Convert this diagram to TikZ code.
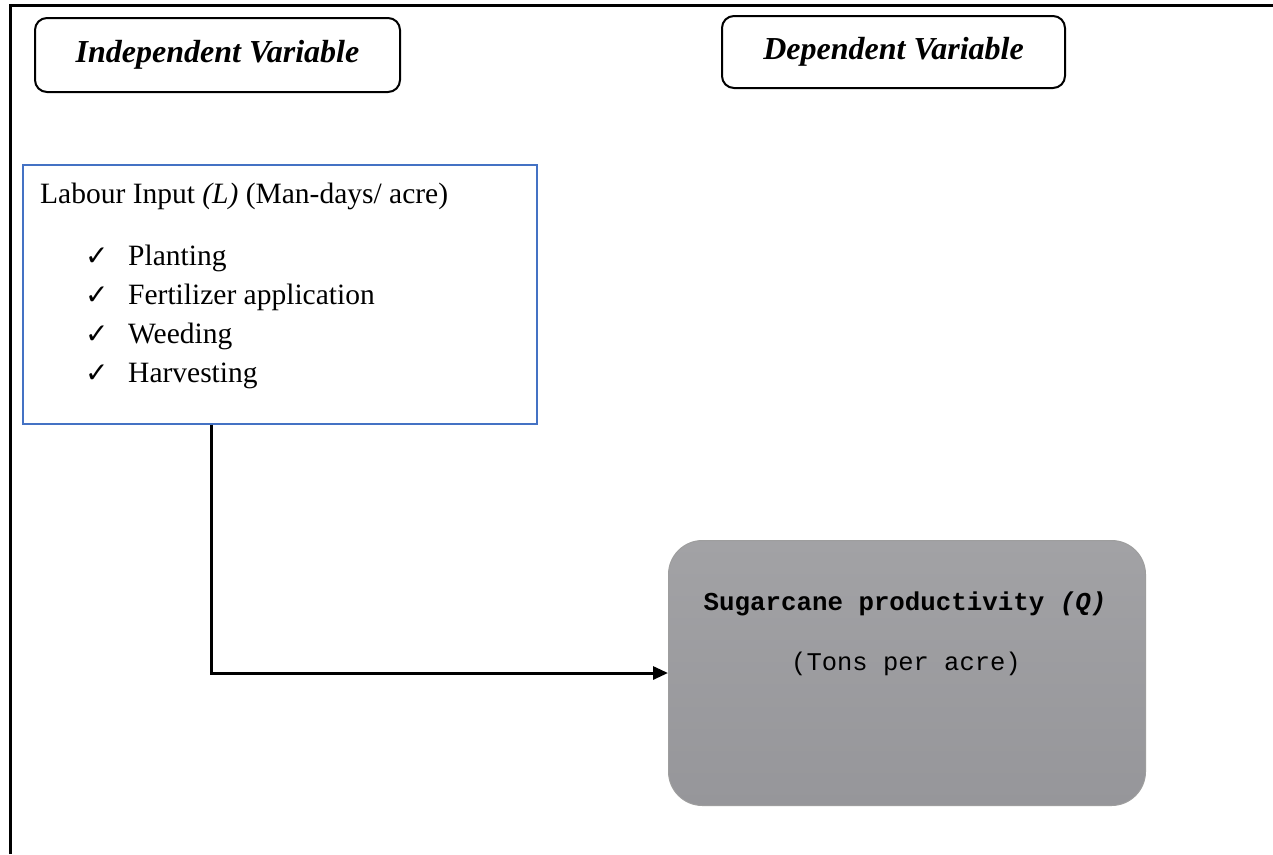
\documentclass[tikz,border=0pt]{standalone}
\usepackage{fontspec}
\setmainfont{Liberation Serif}
\setmonofont{Liberation Mono}
\newfontfamily\symfont{DejaVu Sans}
\usetikzlibrary{arrows.meta,backgrounds}

\definecolor{boxblue}{HTML}{4472C4}
\definecolor{greytop}{HTML}{A2A2A5}
\definecolor{greybot}{HTML}{96969A}

\tikzset{
  headbox/.style={draw=black, line width=2pt, rounded corners=12pt,
    inner sep=0pt, font=\fontsize{32}{38}\selectfont\bfseries\itshape},
  labbox/.style={draw=boxblue, line width=1.6pt, inner sep=0pt, fill=white},
  bodytxt/.style={inner sep=0pt, font=\fontsize{29.5}{35}\selectfont},
  tick/.style={inner sep=0pt, font=\symfont\fontsize{28}{30}\selectfont},
  resultbox/.style={rounded corners=34pt, inner sep=0pt, draw=black!38,
    line width=1pt, top color=greytop, bottom color=greybot},
  monotxt/.style={inner sep=0pt, font=\ttfamily\fontsize{25.5}{30}\selectfont},
  conn/.style={line width=3pt, -{Triangle[length=15pt,width=13pt]}},
}

\begin{document}
\begin{tikzpicture}[x=1pt,y=-1pt]
\useasboundingbox (0,0) rectangle (1273,854);
\fill[white] (0,0) rectangle (1273,854);

% page frame (left and top rules)
\draw[line width=3pt] (10,854) -- (10,5) -- (1273,5);

% headings
\node[headbox, minimum width=365pt, minimum height=74pt] (indep) at (217.5,55) {Independent Variable};
\node[headbox, minimum width=343pt, minimum height=72pt] (dep) at (893.5,52) {Dependent Variable};

% labour input box
\node[labbox, anchor=north west, minimum width=514pt, minimum height=259pt] (lab) at (22,164) {};
\node[bodytxt, anchor=base west] (labt) at (40,203) {Labour Input \textit{(L)} (Man-days/ acre)};
\node[tick, anchor=base west] (t1) at (85,265) {✓};
\node[bodytxt, anchor=base west] (i1) at (128,265) {Planting};
\node[tick, anchor=base west] (t2) at (85,304) {✓};
\node[bodytxt, anchor=base west] (i2) at (128,304) {Fertilizer application};
\node[tick, anchor=base west] (t3) at (85,343) {✓};
\node[bodytxt, anchor=base west] (i3) at (128,343) {Weeding};
\node[tick, anchor=base west] (t4) at (85,382) {✓};
\node[bodytxt, anchor=base west] (i4) at (128,382) {Harvesting};

% outcome box with a soft halo
\node[resultbox, anchor=north west, minimum width=477pt, minimum height=265pt] (sug) at (668,540) {};
\begin{scope}[on background layer]
  \foreach \i in {1,...,8} {
    \fill[black, opacity=0.04, rounded corners=34pt+\i pt]
      ([xshift=-\i pt, yshift=\i pt]sug.north west) rectangle ([xshift=\i pt, yshift=-0.3*\i pt]sug.south east);
  }
\end{scope}
\node[monotxt, font=\ttfamily\bfseries\fontsize{25.8}{30}\selectfont, anchor=base] (sugt) at (905,610) {Sugarcane productivity \textit{(Q)}};
\node[monotxt, anchor=base] (tons) at (906,670) {(Tons per acre)};

% connector
\draw[conn] ([xshift=189pt]lab.south west) |- (sug.west);
\end{tikzpicture}
\end{document}
